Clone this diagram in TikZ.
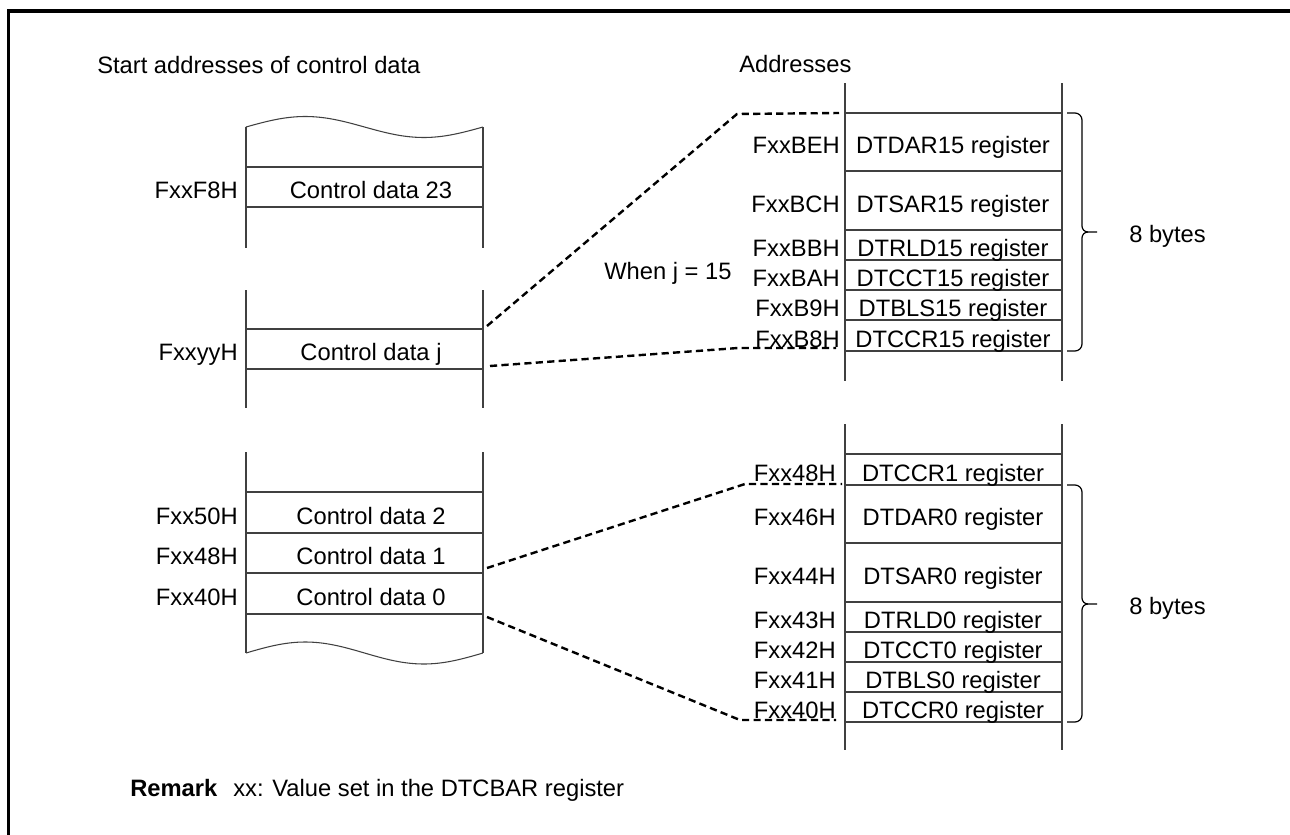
\documentclass[tikz,border=0pt]{standalone}
\usepackage{fontspec}
\setmainfont{Liberation Sans}
\begin{document}
\begin{tikzpicture}[x=0.75pt,y=-0.75pt]
\tikzset{
  txt/.style={inner sep=0pt, anchor=base, font=\fontsize{17.8}{20}\selectfont},
  lbl/.style={txt, anchor=base east},
  memline/.style={line width=0.8pt, draw=black!75},
  bracepath/.style={line width=0.9pt, draw=black},
  dashlink/.style={line width=1.8pt, dash pattern=on 5.4pt off 3.2pt},
  framebox/.style={line width=2.3pt}
}
\useasboundingbox (0,0) rectangle (1290,835);
\draw[framebox] (8.5,835) -- (8.5,11) -- (1290,11);

% titles
\node[txt, anchor=base west] (title) at (97,73.5) {Start addresses of control data};
\node[txt, anchor=base west] (addr) at (739,72.5) {Addresses};
\node[txt, anchor=base west] (when) at (604,279) {When j = 15};

% ---- left column 1 ----
\draw[memline] plot[domain=0:1,samples=60,smooth] ({246+237*\x},{127-10.5*sin(360*\x)});
\draw[memline] (246,127) -- (246,248) (483,127) -- (483,248)
  (246,167) -- (483,167) (246,207) -- (483,207);
\node[lbl] (l23) at (238,198.5) {FxxF8H};
\node[txt] (c23) at (371,198.5) {Control data 23};

% ---- left column 2 ----
\draw[memline] (246,290) -- (246,408) (483,290) -- (483,408)
  (246,329) -- (483,329) (246,369) -- (483,369);
\node[lbl] (lj) at (238,360.5) {FxxyyH};
\node[txt] (cj) at (371,360.5) {Control data j};

% ---- left column 3 ----
\draw[memline] plot[domain=0:1,samples=60,smooth] ({246+237*\x},{653-11*sin(360*\x)});
\draw[memline] (246,452) -- (246,653) (483,452) -- (483,653)
  (246,492) -- (483,492) (246,533) -- (483,533)
  (246,573) -- (483,573) (246,614) -- (483,614);
\node[lbl] (l2) at (238,524) {Fxx50H};
\node[txt] (c2) at (371,524) {Control data 2};
\node[lbl] (l1) at (238,564.5) {Fxx48H};
\node[txt] (c1) at (371,564.5) {Control data 1};
\node[lbl] (l0) at (238,605) {Fxx40H};
\node[txt] (c0) at (371,605) {Control data 0};

% ---- right column top ----
\draw[memline] (845,83) -- (845,381) (1062,83) -- (1062,381);
\foreach \yy in {113,171,230,260,290,320,351}
  \draw[memline] (845,\yy) -- (1062,\yy);
\foreach \yy/\ad/\rg/\nm in {153.5/FxxBEH/DTDAR15/ta,212/FxxBCH/DTSAR15/tb,256.5/FxxBBH/DTRLD15/tc,
    286.5/FxxBAH/DTCCT15/td,316.5/FxxB9H/DTBLS15/te,347/FxxB8H/DTCCR15/tf}{
  \node[lbl] (a\nm) at (840,\yy) {\ad};
  \node[txt] (r\nm) at (953,\yy) {\rg\ register};
}
\draw[bracepath] (1067,113) -- (1075,113) to[out=0,in=90] (1082,120) -- (1082,226)
  to[out=-90,in=180] (1088,232) -- (1097,232);
\draw[bracepath] (1067,351) -- (1075,351) to[out=0,in=-90] (1082,344) -- (1082,238)
  to[out=90,in=180] (1088,232);
\node[txt, anchor=base west] (bytesA) at (1129,242) {8 bytes};

% ---- right column bottom ----
\draw[memline] (845,424) -- (845,750) (1062,424) -- (1062,750);
\foreach \yy in {454,485,543,602,632,662,692,722}
  \draw[memline] (845,\yy) -- (1062,\yy);
\foreach \yy/\ad/\rg/\nm in {481/Fxx48H/DTCCR1/ba,525.5/Fxx46H/DTDAR0/bb,584/Fxx44H/DTSAR0/bc,
    628.5/Fxx43H/DTRLD0/bd,658.5/Fxx42H/DTCCT0/be,688.5/Fxx41H/DTBLS0/bf,718.5/Fxx40H/DTCCR0/bg}{
  \node[lbl] (a\nm) at (836,\yy) {\ad};
  \node[txt] (r\nm) at (953,\yy) {\rg\ register};
}
\draw[bracepath] (1067,485) -- (1075,485) to[out=0,in=90] (1082,492) -- (1082,598)
  to[out=-90,in=180] (1088,604) -- (1097,604);
\draw[bracepath] (1067,722) -- (1075,722) to[out=0,in=-90] (1082,715) -- (1082,610)
  to[out=90,in=180] (1088,604);
\node[txt, anchor=base west] (bytesB) at (1129,614) {8 bytes};

% ---- dashed connectors ----
\coordinate (ja) at (487,326);
\coordinate (jb) at (737,114);
\coordinate (jc) at (839,113);
\coordinate (jd) at (490,366);
\coordinate (je) at (738,348);
\coordinate (jf) at (836,348);
\draw[dashlink] (ja) -- (jb) -- (jc);
\draw[dashlink] (jd) -- (je) -- (jf);
\coordinate (ka) at (487,568);
\coordinate (kb) at (745,484);
\coordinate (kc) at (842,484);
\coordinate (kd) at (487,617);
\coordinate (ke) at (740,720);
\coordinate (kf) at (836,720);
\draw[dashlink] (ka) -- (kb) -- (kc);
\draw[dashlink] (kd) -- (ke) -- (kf);

% ---- remark ----
\node[txt, anchor=base west] (rem) at (130,796) {\bfseries Remark};
\node[txt, anchor=base west] (remtext) at (233,796) {xx: Value set in the DTCBAR register};
\end{tikzpicture}
\end{document}
